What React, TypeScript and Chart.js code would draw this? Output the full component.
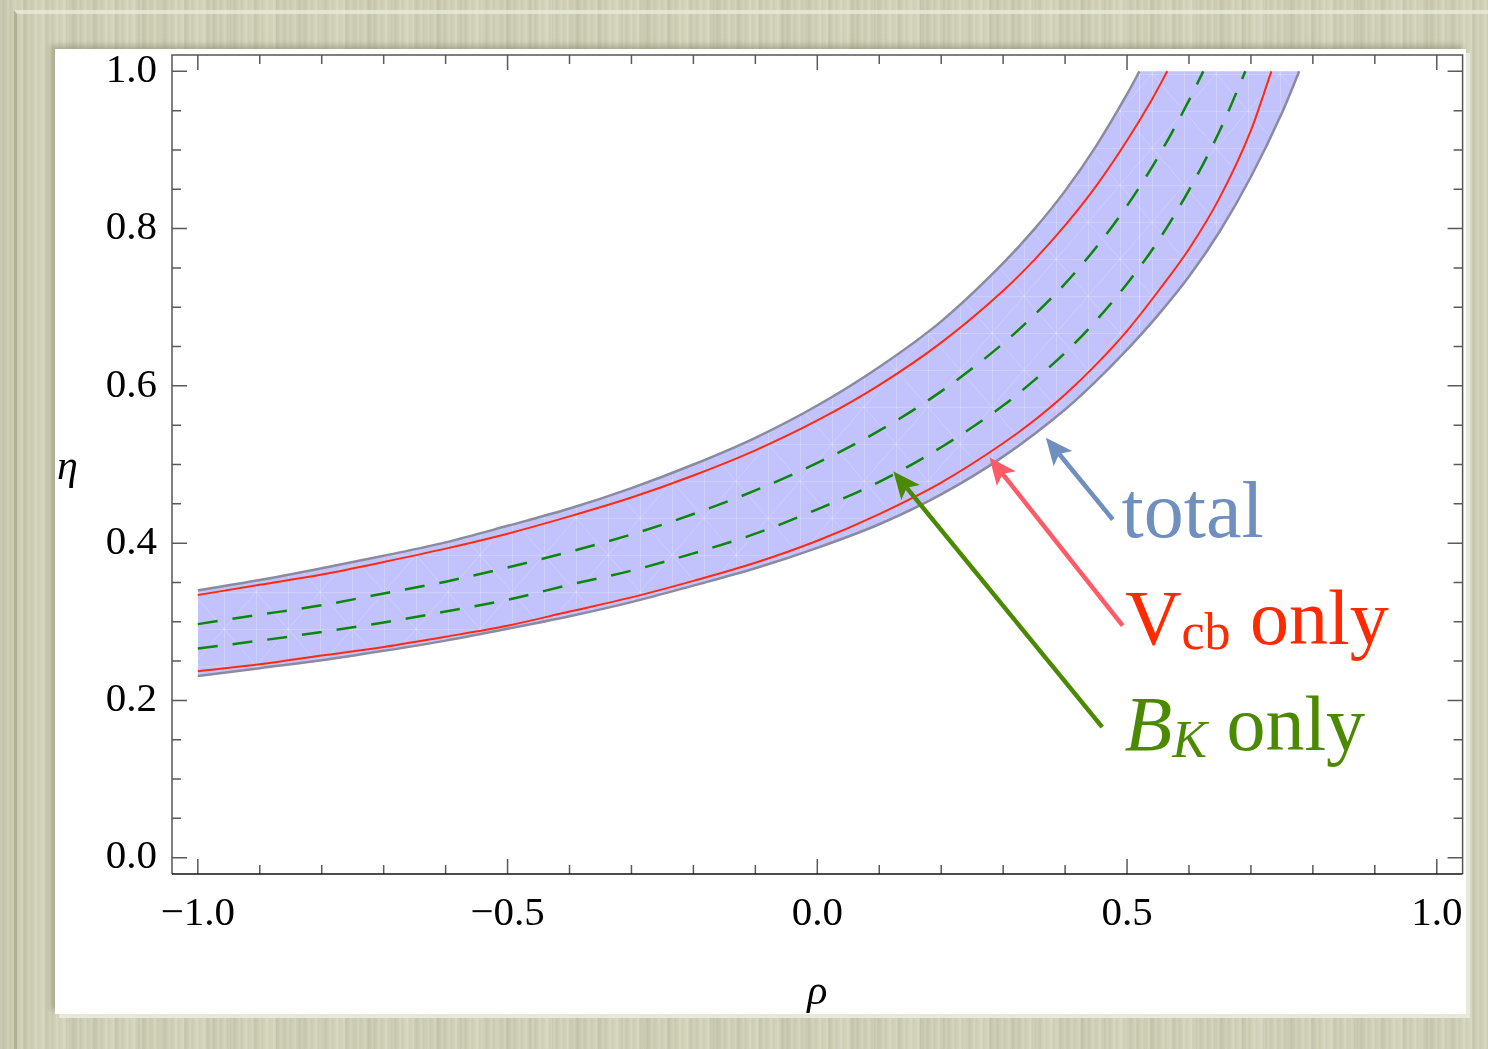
import React, { useEffect, useRef } from 'react';
import { Chart, registerables } from 'chart.js';

Chart.register(...registerables);

// ---------------- data ----------------
// total (outer band edges)
const totalUpperRho = [-1.0, -0.9, -0.8, -0.7, -0.6, -0.5, -0.4, -0.3, -0.2, -0.1, 0.0, 0.1, 0.2, 0.3, 0.35, 0.4, 0.45, 0.5, 0.52];
const totalUpperEta = [0.340, 0.353, 0.368, 0.384, 0.401, 0.422, 0.444, 0.470, 0.500, 0.534, 0.575, 0.624, 0.682, 0.756, 0.799, 0.848, 0.905, 0.971, 1.0];
const totalLowerRho = [-1.0, -0.9, -0.8, -0.7, -0.6, -0.5, -0.4, -0.3, -0.2, -0.1, 0.0, 0.1, 0.2, 0.3, 0.4, 0.45, 0.5, 0.55, 0.6, 0.65, 0.7, 0.75, 0.778];
const totalLowerEta = [0.231, 0.241, 0.251, 0.263, 0.276, 0.291, 0.307, 0.325, 0.346, 0.368, 0.394, 0.424, 0.462, 0.510, 0.570, 0.606, 0.646, 0.690, 0.739, 0.797, 0.866, 0.947, 1.0];

// Vcb only (red solid)
const vcbUpperRho = [-1.0, -0.9, -0.8, -0.7, -0.6, -0.5, -0.4, -0.3, -0.2, -0.1, 0.0, 0.1, 0.2, 0.3, 0.35, 0.4, 0.45, 0.5, 0.54, 0.565];
const vcbUpperEta = [0.334, 0.347, 0.360, 0.376, 0.393, 0.412, 0.434, 0.458, 0.486, 0.518, 0.556, 0.601, 0.655, 0.721, 0.760, 0.804, 0.854, 0.912, 0.964, 1.0];
const vcbLowerRho = [-1.0, -0.9, -0.8, -0.7, -0.6, -0.5, -0.4, -0.3, -0.2, -0.1, 0.0, 0.1, 0.2, 0.3, 0.35, 0.4, 0.45, 0.5, 0.55, 0.6, 0.65, 0.7, 0.733];
const vcbLowerEta = [0.237, 0.246, 0.257, 0.268, 0.281, 0.295, 0.313, 0.331, 0.352, 0.375, 0.403, 0.437, 0.477, 0.527, 0.556, 0.589, 0.627, 0.670, 0.720, 0.774, 0.840, 0.925, 1.0];

// B_K only (green dashed)
const bkUpperRho = [-1.0, -0.9, -0.8, -0.7, -0.6, -0.5, -0.4, -0.3, -0.2, -0.1, 0.0, 0.1, 0.2, 0.3, 0.35, 0.4, 0.45, 0.5, 0.55, 0.6, 0.623];
const bkUpperEta = [0.297, 0.309, 0.321, 0.336, 0.351, 0.369, 0.389, 0.411, 0.437, 0.467, 0.502, 0.543, 0.593, 0.654, 0.690, 0.730, 0.776, 0.829, 0.891, 0.963, 1.0];
const bkLowerRho = [-1.0, -0.9, -0.8, -0.7, -0.6, -0.5, -0.4, -0.3, -0.2, -0.1, 0.0, 0.1, 0.2, 0.3, 0.35, 0.4, 0.45, 0.5, 0.55, 0.6, 0.65, 0.691];
const bkLowerEta = [0.266, 0.276, 0.287, 0.299, 0.313, 0.328, 0.347, 0.365, 0.387, 0.412, 0.443, 0.478, 0.522, 0.575, 0.607, 0.642, 0.683, 0.730, 0.784, 0.849, 0.925, 1.0];

// axes
const xRange = [-1.0417, 1.0417];
const yRange = [-0.0208, 1.0208];
const xTickValues = [-1.0, -0.5, 0.0, 0.5, 1.0];
const xTickLabels = ['\u22121.0', '\u22120.5', '0.0', '0.5', '1.0'];
const yTickValues = [0.0, 0.2, 0.4, 0.6, 0.8, 1.0];
const yTickLabels = ['0.0', '0.2', '0.4', '0.6', '0.8', '1.0'];
const xTitle = '\u03C1';
const yTitle = '\u03B7';

// annotations (data coordinates)
const arrowNames = ['total', 'vcb', 'bk'];
const arrowTails = [[0.477, 0.430], [0.493, 0.295], [0.460, 0.166]];
const arrowTips = [[0.369, 0.534], [0.278, 0.509], [0.123, 0.491]];
const arrowColors = ['#6f8fbe', '#ff5a68', '#4b8a00'];
const labelAnchors = [[0.491, 0.408], [0.497, 0.272], [0.496, 0.137]];
const labelMain = ['total', 'V', 'B'];
const labelSub = ['', 'cb', 'K'];
const labelTail = ['', ' only', ' only'];
const labelColors = ['#6f8fbe', '#ff2a00', '#4b8a00'];

const SERIF = '"Liberation Serif", "Times New Roman", Times, serif';

const pts = (xs: number[], ys: number[]) => xs.map((x, i) => ({ x, y: ys[i] }));

function makePattern(): CanvasPattern | string {
  const c = document.createElement('canvas');
  c.width = 64;
  c.height = 74;
  const g = c.getContext('2d');
  if (!g) return '#c2c2fd';
  g.fillStyle = '#c2c2fd';
  g.fillRect(0, 0, 64, 74);
  g.strokeStyle = 'rgba(255,255,255,0.22)';
  g.lineWidth = 1;
  g.beginPath();
  g.moveTo(0.5, 0); g.lineTo(0.5, 74);
  g.moveTo(32.5, 0); g.lineTo(32.5, 74);
  g.moveTo(0, 0.5); g.lineTo(64, 0.5);
  g.moveTo(0, 37.5); g.lineTo(64, 37.5);
  g.moveTo(0, 0); g.lineTo(64, 74);
  g.moveTo(64, 0); g.lineTo(0, 74);
  g.stroke();
  const p = g.createPattern(c, 'repeat');
  return p || '#c2c2fd';
}

function drawArrow(ctx: CanvasRenderingContext2D, x0: number, y0: number, x1: number, y1: number, color: string) {
  const ang = Math.atan2(y1 - y0, x1 - x0);
  const cos = Math.cos(ang);
  const sin = Math.sin(ang);
  const headLen = 27;
  const halfW = 12;
  const notch = 6;
  const bx = x1 - cos * headLen;
  const by = y1 - sin * headLen;
  ctx.save();
  ctx.strokeStyle = color;
  ctx.fillStyle = color;
  ctx.lineWidth = 4.5;
  ctx.lineCap = 'butt';
  ctx.beginPath();
  ctx.moveTo(x0, y0);
  ctx.lineTo(bx + cos * notch, by + sin * notch);
  ctx.stroke();
  ctx.beginPath();
  ctx.moveTo(x1, y1);
  ctx.lineTo(bx - sin * halfW, by + cos * halfW);
  ctx.lineTo(bx + cos * notch, by + sin * notch);
  ctx.lineTo(bx + sin * halfW, by - cos * halfW);
  ctx.closePath();
  ctx.fill();
  ctx.restore();
}

const frameTicksPlugin = {
  id: 'frameTicks',
  afterDatasetsDraw(chart: any) {
    const { ctx, chartArea: a, scales } = chart;
    const xs = scales.x;
    const ys = scales.y;
    ctx.save();
    ctx.lineWidth = 1.5;
    ctx.strokeStyle = '#5a5a5a';
    ctx.beginPath();
    for (let k = -10; k <= 10; k++) {
      const px = xs.getPixelForValue(k / 10);
      const len = k % 5 === 0 ? 15 : 9;
      ctx.moveTo(px, a.bottom);
      ctx.lineTo(px, a.bottom - len);
      ctx.moveTo(px, a.top);
      ctx.lineTo(px, a.top + len);
    }
    for (let k = 0; k <= 20; k++) {
      const py = ys.getPixelForValue(k / 20);
      const len = k % 4 === 0 ? 15 : 9;
      ctx.moveTo(a.left, py);
      ctx.lineTo(a.left + len, py);
      ctx.moveTo(a.right, py);
      ctx.lineTo(a.right - len, py);
    }
    ctx.stroke();
    ctx.strokeStyle = '#555555';
    ctx.beginPath();
    ctx.moveTo(a.left, a.bottom);
    ctx.lineTo(a.left, a.top);
    ctx.lineTo(a.right, a.top);
    ctx.lineTo(a.right, a.bottom);
    ctx.stroke();
    ctx.strokeStyle = '#111111';
    ctx.beginPath();
    ctx.moveTo(a.left, a.bottom);
    ctx.lineTo(a.right, a.bottom);
    ctx.stroke();
    ctx.restore();
  },
};

const annotationPlugin = {
  id: 'annotations',
  afterDraw(chart: any) {
    const { ctx, chartArea: a, scales } = chart;
    const xs = scales.x;
    const ys = scales.y;
    ctx.save();
    ctx.fillStyle = '#000';
    ctx.font = `italic 42px ${SERIF}`;
    ctx.textBaseline = 'alphabetic';
    ctx.textAlign = 'left';
    ctx.fillText(yTitle, a.left - 115, (a.top + a.bottom) / 2 + 14);
    ctx.restore();

    arrowNames.forEach((_, i) => {
      drawArrow(
        ctx,
        xs.getPixelForValue(arrowTails[i][0]),
        ys.getPixelForValue(arrowTails[i][1]),
        xs.getPixelForValue(arrowTips[i][0]),
        ys.getPixelForValue(arrowTips[i][1]),
        arrowColors[i]
      );
    });

    labelMain.forEach((main, i) => {
      let x = xs.getPixelForValue(labelAnchors[i][0]);
      const y = ys.getPixelForValue(labelAnchors[i][1]);
      ctx.save();
      ctx.fillStyle = labelColors[i];
      ctx.textBaseline = 'alphabetic';
      ctx.textAlign = 'left';
      const italic = i === 2;
      const mainSize = i === 0 ? 80 : 78;
      ctx.font = `${italic ? 'italic ' : ''}${mainSize}px ${SERIF}`;
      ctx.fillText(main, x, y);
      x += ctx.measureText(main).width;
      if (labelSub[i]) {
        ctx.font = `${italic ? 'italic ' : ''}52px ${SERIF}`;
        ctx.fillText(labelSub[i], x, y + (italic ? 7 : 5));
        x += ctx.measureText(labelSub[i]).width;
      }
      if (labelTail[i]) {
        ctx.font = `78px ${SERIF}`;
        ctx.fillText(labelTail[i], x, y);
      }
      ctx.restore();
    });
  },
};

export default function App() {
  const ref = useRef<HTMLCanvasElement>(null);

  useEffect(() => {
    const canvas = ref.current;
    if (!canvas) return;
    const bandFill = makePattern();
    const lineBase = {
      pointRadius: 0,
      pointHoverRadius: 0,
      fill: false,
      cubicInterpolationMode: 'monotone' as const,
    };
    const capData = [
      { x: totalUpperRho[totalUpperRho.length - 1], y: totalUpperEta[totalUpperEta.length - 1] },
      { x: totalLowerRho[totalLowerRho.length - 1], y: totalLowerEta[totalLowerEta.length - 1] },
    ];

    const chart = new Chart(canvas, {
      type: 'line',
      data: {
        datasets: [
          { ...lineBase, label: 'Vcb upper', data: pts(vcbUpperRho, vcbUpperEta), borderColor: '#ff2a10', borderWidth: 2 },
          { ...lineBase, label: 'Vcb lower', data: pts(vcbLowerRho, vcbLowerEta), borderColor: '#ff2a10', borderWidth: 2 },
          { ...lineBase, label: 'BK upper', data: pts(bkUpperRho, bkUpperEta), borderColor: '#0a870a', borderWidth: 2.5, borderDash: [20, 15] },
          { ...lineBase, label: 'BK lower', data: pts(bkLowerRho, bkLowerEta), borderColor: '#0a870a', borderWidth: 2.5, borderDash: [20, 15] },
          { ...lineBase, label: 'total upper', data: pts(totalUpperRho, totalUpperEta), borderColor: '#8a8aa0', borderWidth: 2.5 },
          { ...lineBase, label: 'total lower', data: pts(totalLowerRho, totalLowerEta), borderColor: '#8a8aa0', borderWidth: 2.5, fill: 4, backgroundColor: bandFill as any },
          { ...lineBase, label: 'total cap', data: capData, borderColor: 'rgba(0,0,0,0)', borderWidth: 0, fill: 5, backgroundColor: bandFill as any },
        ],
      },
      options: {
        responsive: false,
        animation: false,
        devicePixelRatio: 1,
        events: [],
        layout: { padding: { left: 0, top: 55, right: 25.4, bottom: 0 } },
        plugins: {
          legend: { display: false },
          tooltip: { enabled: false },
          filler: { drawTime: 'beforeDatasetsDraw', propagate: false },
        },
        scales: {
          x: {
            type: 'linear',
            min: xRange[0],
            max: xRange[1],
            grid: { display: false, drawTicks: false },
            border: { display: false },
            afterBuildTicks: (s: any) => { s.ticks = xTickValues.map((v) => ({ value: v })); },
            afterFit: (s: any) => { s.height = 175; },
            ticks: {
              autoSkip: false,
              maxRotation: 0,
              padding: 16,
              color: '#000',
              font: { family: SERIF, size: 41 },
              callback: (_v: any, i: number) => xTickLabels[i],
            },
            title: {
              display: true,
              text: xTitle,
              color: '#000',
              font: { family: SERIF, size: 42, style: 'italic' },
              padding: { top: 0, bottom: 31 },
            },
          },
          y: {
            type: 'linear',
            min: yRange[0],
            max: yRange[1],
            grid: { display: false, drawTicks: false },
            border: { display: false },
            afterBuildTicks: (s: any) => { s.ticks = yTickValues.map((v) => ({ value: v })); },
            afterFit: (s: any) => { s.width = 172; },
            ticks: {
              autoSkip: false,
              padding: 15,
              color: '#000',
              font: { family: SERIF, size: 41 },
              callback: (_v: any, i: number) => yTickLabels[i],
            },
          },
        },
      },
      plugins: [frameTicksPlugin, annotationPlugin],
    } as any);

    return () => chart.destroy();
  }, []);

  const grain =
    'repeating-linear-gradient(90deg, rgba(255,255,255,0.07) 0px, rgba(255,255,255,0.07) 2px, rgba(0,0,0,0.035) 3px, rgba(0,0,0,0) 7px),' +
    'repeating-linear-gradient(90deg, rgba(0,0,0,0.045) 0px, rgba(0,0,0,0) 11px, rgba(255,255,255,0.06) 17px, rgba(0,0,0,0) 23px),' +
    'repeating-linear-gradient(90deg, rgba(120,120,90,0.05) 0px, rgba(0,0,0,0) 37px, rgba(255,255,240,0.05) 53px, rgba(0,0,0,0) 71px),' +
    '#d1d2b7';

  return (
    <div
      style={{
        position: 'absolute',
        left: 0,
        top: 0,
        width: 1488,
        height: 1049,
        overflow: 'hidden',
        background: grain,
      }}
    >
      <div
        style={{
          position: 'absolute',
          left: 14,
          top: 10,
          width: 1490,
          height: 1060,
          borderLeft: '3px solid rgba(150,150,118,0.55)',
          borderTop: '4px solid rgba(236,236,222,0.75)',
          boxSizing: 'border-box',
        }}
      />
      <div
        style={{
          position: 'absolute',
          left: 55,
          top: 49,
          width: 1411,
          height: 965,
          background: '#ffffff',
          boxShadow: '-4px -4px 5px rgba(110,110,80,0.35), 4px 4px 0px rgba(236,236,222,0.9)',
        }}
      />
      <canvas ref={ref} width={1488} height={1049} style={{ position: 'absolute', left: 0, top: 0 }} />
    </div>
  );
}
